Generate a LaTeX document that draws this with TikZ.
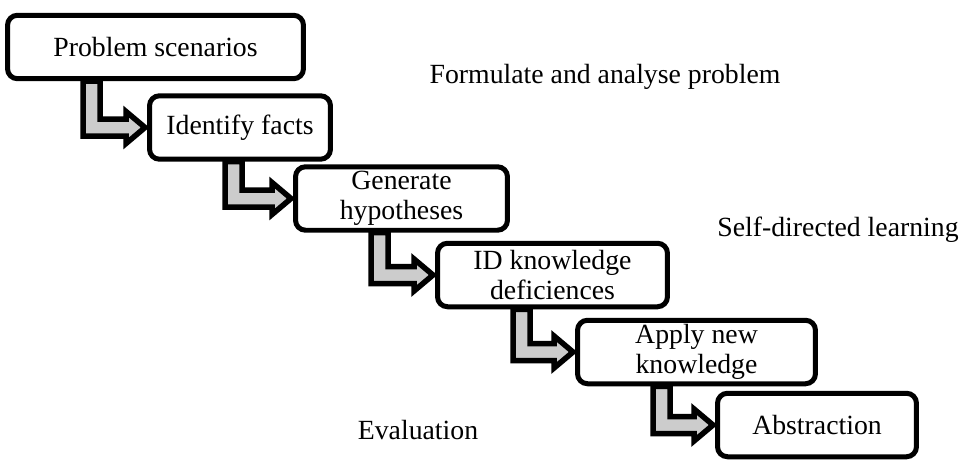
\documentclass[tikz,border=0pt]{standalone}
\usepackage{fontspec}
\setmainfont{Liberation Serif}
\usetikzlibrary{calc}
\tikzset{
  stepbox/.style={draw, line width=0.1cm, rounded corners=0.2cm, fill=white,
    align=center, minimum height=1.27cm, inner sep=2pt},
  stair/.style={draw, line width=0.11cm, fill=black!20, line join=miter},
}
% bent block arrow from the bottom of one step to the left side of the next
\newcommand\stairarrow[2]{%
  \draw[stair] ($(#1.south west)+(78,0)$) |- ($(#2.west)+(-21,8.5)$) -- ++(0,7.5)
    -- ($(#2.west)+(-2,0)$) -- ++(-19,-16) -- ++(0,7.5)
    -| ($(#1.south west)+(95,0)$) -- cycle;}
\begin{document}
\begin{tikzpicture}[x=0.02cm, y=-0.02cm, font=\fontsize{15.8}{16.8}\selectfont]
  \useasboundingbox (0,0) rectangle (962,460);
  \node[stepbox, minimum width=5.92cm] (scen) at (155.5,47) {Problem scenarios};
  \node[stepbox, minimum width=3.62cm] (facts) at (240,127.5) {Identify facts};
  \node[stepbox, minimum width=4.24cm] (hyp) at (401.5,198.5) {Generate\\hypotheses};
  \node[stepbox, minimum width=4.6cm] (defic) at (552.5,275) {ID knowledge\\deficiences};
  \node[stepbox, minimum width=4.76cm] (apply) at (696.5,352) {Apply new\\knowledge};
  \node[stepbox, minimum width=3.98cm] (abstr) at (817,425) {Abstraction};
  \stairarrow{scen}{facts}
  \stairarrow{facts}{hyp}
  \stairarrow{hyp}{defic}
  \stairarrow{defic}{apply}
  \stairarrow{apply}{abstr}
  % phase labels
  \node (form) at (605,77) {Formulate and analyse problem};
  \node (self) at (838,230) {Self-directed learning};
  \node (eval) at (418,430) {Evaluation};
\end{tikzpicture}
\end{document}
